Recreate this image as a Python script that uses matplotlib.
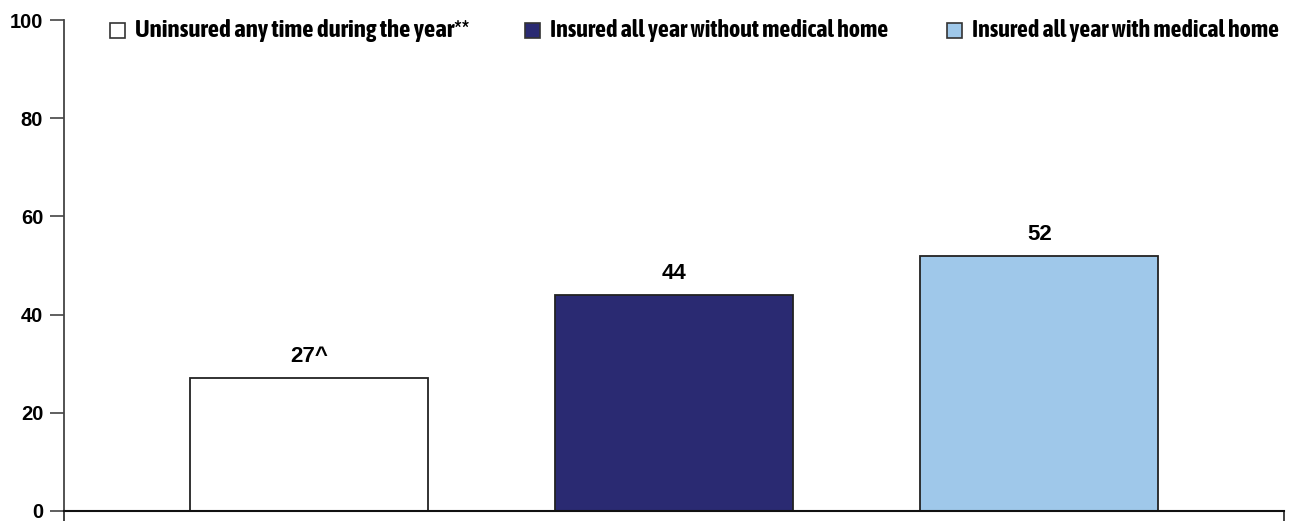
import matplotlib
matplotlib.use("Agg")
import matplotlib.pyplot as plt
from matplotlib.patches import Rectangle
from matplotlib import font_manager

categories = ["Uninsured any time during the year**",
              "Insured all year without medical home",
              "Insured all year with medical home"]
values = [27, 44, 52]
value_labels = ["27^", "44", "52"]
colors = ["#ffffff", "#2a2a72", "#9fc8ea"]
yticks = [0, 20, 40, 60, 80, 100]

# look for a condensed / narrow face for the legend
legend_font = None
for f in font_manager.fontManager.ttflist:
    n = f.name.lower()
    if ("narrow" in n or "condensed" in n) and f.weight in ("bold", 700):
        legend_font = f.name
        break
if legend_font is None:
    for f in font_manager.fontManager.ttflist:
        if "condensed" in str(f.stretch) and f.weight in ("bold", 700):
            legend_font = f.name
            break
if legend_font is None:
    legend_font = "Liberation Sans"

W, H = 1291, 521
fig = plt.figure(figsize=(W / 100, H / 100), dpi=100)
ax = fig.add_axes([64 / W, 10 / H, 1220 / W, 491 / H])

x = list(range(len(categories)))
ax.bar(x, values, width=0.651, color=colors, edgecolor="#222222", linewidth=1.3, zorder=2)

for xi, v, lab in zip(x, values, value_labels):
    ax.annotate(lab, (xi, v), xytext=(0, 8), textcoords="offset points",
                ha="center", va="bottom", fontsize=16, fontweight="bold",
                family="Liberation Sans")

ax.set_xlim(-0.67, 2.67)
ax.set_ylim(0, 100)
ax.set_yticks(yticks)
ax.set_yticklabels([str(t) for t in yticks], fontsize=14.5, fontweight="bold",
                   family="Liberation Sans")
ax.set_xticks([-0.67, 2.67])
ax.set_xticklabels([])
ax.tick_params(axis="y", length=10, width=1.2, color="#444444", pad=5)
ax.tick_params(axis="x", length=7, width=1.2, color="#222222")

for s in ["top", "right"]:
    ax.spines[s].set_visible(False)
ax.spines["left"].set_color("#444444")
ax.spines["left"].set_linewidth(1.3)
ax.spines["bottom"].set_color("#111111")
ax.spines["bottom"].set_linewidth(1.5)

# legend: swatch + text, text scaled to fit the target widths
swatch_x = [110, 525, 947]
text_x = [135, 550, 972]
text_w = [333, 338, 306]
renderer = fig.canvas.get_renderer()
for c, lab, sx, tx, tw in zip(colors, categories, swatch_x, text_x, text_w):
    fig.patches.append(Rectangle((sx / W, (H - 38) / H), 15 / W, 15 / H,
                                 transform=fig.transFigure, facecolor=c,
                                 edgecolor="#333333", linewidth=1.2))
    t = fig.text(tx / W, (H - 31) / H, lab, ha="left", va="center",
                 family=legend_font, fontweight="bold", fontsize=14)
    w = t.get_window_extent(renderer).width
    t.set_fontsize(min(14 * tw / w, 18))

fig.savefig("out.png", dpi=100)
